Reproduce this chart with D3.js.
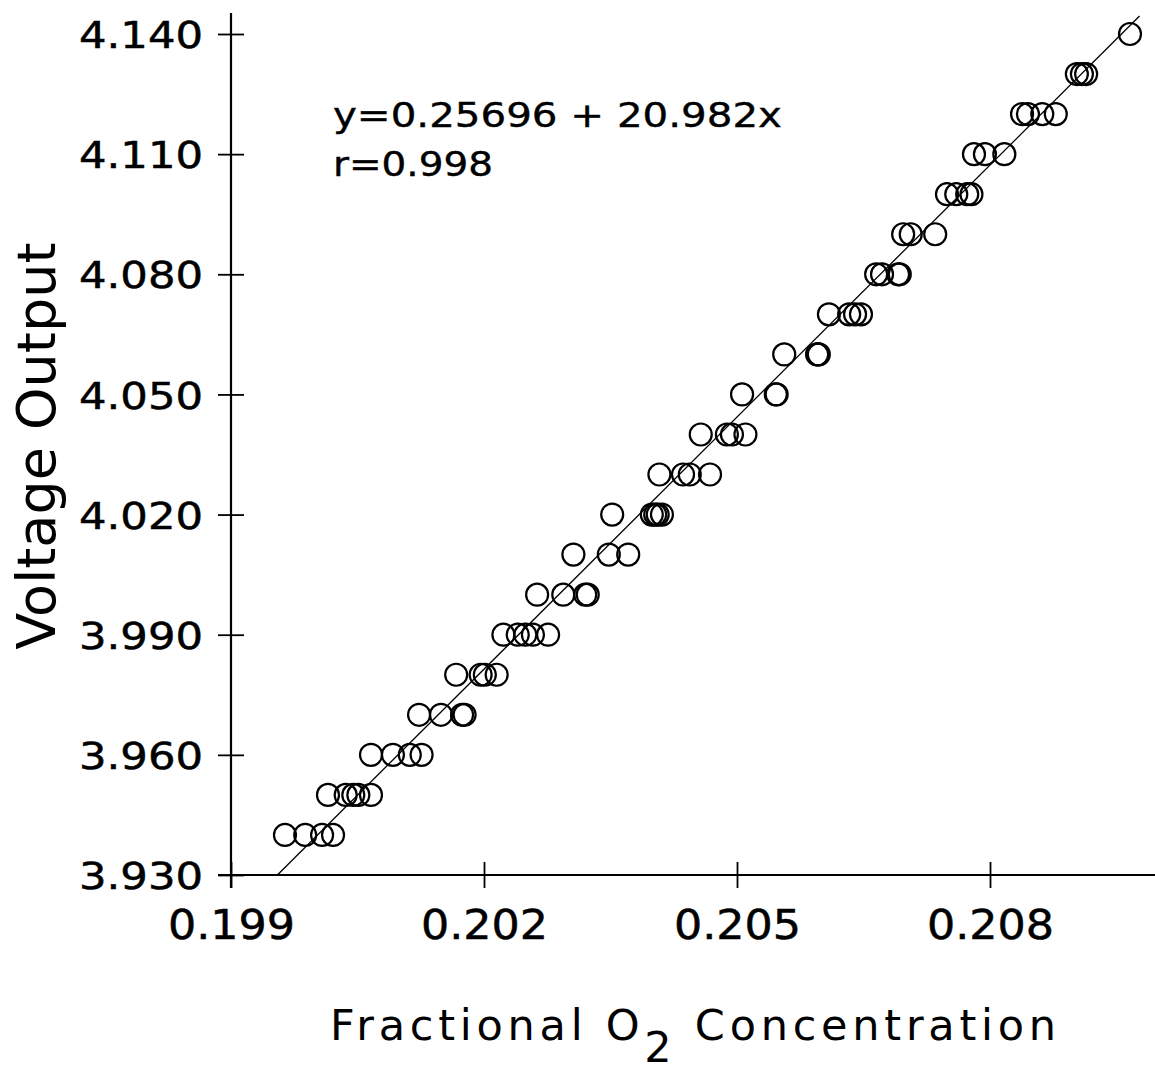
<!DOCTYPE html>
<html><head><meta charset="utf-8">
<script src="https://cdn.jsdelivr.net/npm/d3@7"></script>
<style>body{margin:0;background:#fff}svg{display:block}</style>
</head><body>
<script>
// Data: voltage levels and O2 fractions
const levels = [3.94,3.95,3.96,3.97,3.98,3.99,4.00,4.01,4.02,4.03,4.04,4.05,4.06,4.07,4.08,4.09,4.10,4.11,4.12,4.13,4.14];
const o2ByLevel = [
  [0.19964,0.19988,0.20008,0.20021],
  [0.20015,0.20036,0.20045,0.20051,0.20066],
  [0.20066,0.20092,0.20112,0.20126],
  [0.20123,0.20149,0.20174,0.20177],
  [0.20167,0.20196,0.20201,0.20215],
  [0.20223,0.20240,0.20249,0.20258,0.20276],
  [0.20263,0.20294,0.20320,0.20323],
  [0.20306,0.20348,0.20371],
  [0.20352,0.20399,0.20403,0.20406,0.20411],
  [0.20408,0.20436,0.20444,0.20468],
  [0.20457,0.20488,0.20494,0.20510],
  [0.20506,0.20546,0.20547],
  [0.20556,0.20595,0.20596,0.20597],
  [0.20609,0.20633,0.20640,0.20647],
  [0.20665,0.20672,0.20691,0.20693],
  [0.20697,0.20706,0.20735],
  [0.20749,0.20760,0.20773,0.20778],
  [0.20781,0.20794,0.20817],
  [0.20838,0.20845,0.20862,0.20878],
  [0.20903,0.20909,0.20914],
  [0.20966]
];
const xTicks = [0.199,0.202,0.205,0.208];
const yTicks = [3.930,3.960,3.990,4.020,4.050,4.080,4.110,4.140];
const fitIntercept = -0.25696, fitSlope = 20.982;
const eqText = "y=0.25696 + 20.982x";
const rText = "r=0.998";

const W = 1155, H = 1071;
const svg = d3.select("body").append("svg").attr("width", W).attr("height", H);
const x = d3.scaleLinear().domain([0.199, 0.208]).range([231, 990]);
const y = d3.scaleLinear().domain([3.930, 4.140]).range([875, 34]);
const font = "'DejaVu Sans', sans-serif";

// axes lines
const x0 = x(0.199), y0 = y(3.930);
svg.append("line").attr("x1", x0).attr("x2", x0).attr("y1", 13).attr("y2", y0 + 13)
  .attr("stroke", "#000").attr("stroke-width", 2.2);
svg.append("line").attr("x1", x0 - 13).attr("x2", W).attr("y1", y0).attr("y2", y0)
  .attr("stroke", "#000").attr("stroke-width", 2.2);

// y axis ticks
const gy = svg.append("g").attr("transform", `translate(${x0},0)`)
  .call(d3.axisLeft(y).tickValues(yTicks).tickSize(13).tickPadding(15).tickFormat(d3.format(".3f")));
gy.select(".domain").remove();
gy.selectAll(".tick line").attr("x1", 13).attr("stroke-width", 1.8);
gy.selectAll(".tick text").attr("font-family", font).attr("font-size", 38)
  .attr("textLength", 124).attr("lengthAdjust", "spacingAndGlyphs")
  .attr("stroke", "#000").attr("stroke-width", 0.5)
  .attr("fill", "#000").attr("dy", "0.36em");

// x axis ticks
const gx = svg.append("g").attr("transform", `translate(0,${y0})`)
  .call(d3.axisBottom(x).tickValues(xTicks).tickSize(13).tickPadding(18).tickFormat(d3.format(".3f")));
gx.select(".domain").remove();
gx.selectAll(".tick line").attr("y1", -13).attr("stroke-width", 1.8);
gx.selectAll(".tick text").attr("font-family", font).attr("font-size", 40)
  .attr("y", 64).attr("dy", 0)
  .attr("textLength", 127).attr("lengthAdjust", "spacingAndGlyphs")
  .attr("stroke", "#000").attr("stroke-width", 0.5).attr("fill", "#000");

// regression line
const yTop = 4.1445;
svg.append("line")
  .attr("x1", x((3.930 - fitIntercept) / fitSlope)).attr("y1", y(3.930))
  .attr("x2", x((yTop - fitIntercept) / fitSlope)).attr("y2", y(yTop))
  .attr("stroke", "#000").attr("stroke-width", 1.3);

// points
const pts = [];
levels.forEach((v, i) => o2ByLevel[i].forEach(o => pts.push({o, v})));
svg.append("g").selectAll("circle").data(pts).join("circle")
  .attr("cx", d => x(d.o)).attr("cy", d => y(d.v)).attr("r", 11)
  .attr("fill", "none").attr("stroke", "#000").attr("stroke-width", 2.2);

// equation
svg.append("text").attr("x", 333).attr("y", 127).attr("font-family", font).attr("font-size", 34)
  .attr("stroke", "#000").attr("stroke-width", 0.4)
  .attr("textLength", 449).attr("lengthAdjust", "spacingAndGlyphs").text(eqText);
svg.append("text").attr("x", 333).attr("y", 176).attr("font-family", font).attr("font-size", 34)
  .attr("stroke", "#000").attr("stroke-width", 0.4)
  .attr("textLength", 160).attr("lengthAdjust", "spacingAndGlyphs").text(rText);

// x axis title
const xt = svg.append("text").attr("x", 330).attr("y", 1040).attr("font-family", font).attr("font-size", 43)
  .attr("textLength", 726).attr("lengthAdjust", "spacing");
xt.append("tspan").text("Fractional O");
xt.append("tspan").attr("dy", 22).text("2");
xt.append("tspan").attr("dy", -22).text(" Concentration");

// y axis title
svg.append("text").attr("transform", "translate(55,446) rotate(-90)")
  .attr("text-anchor", "middle").attr("font-family", font).attr("font-size", 54)
  .text("Voltage Output");
</script>
</body></html>
